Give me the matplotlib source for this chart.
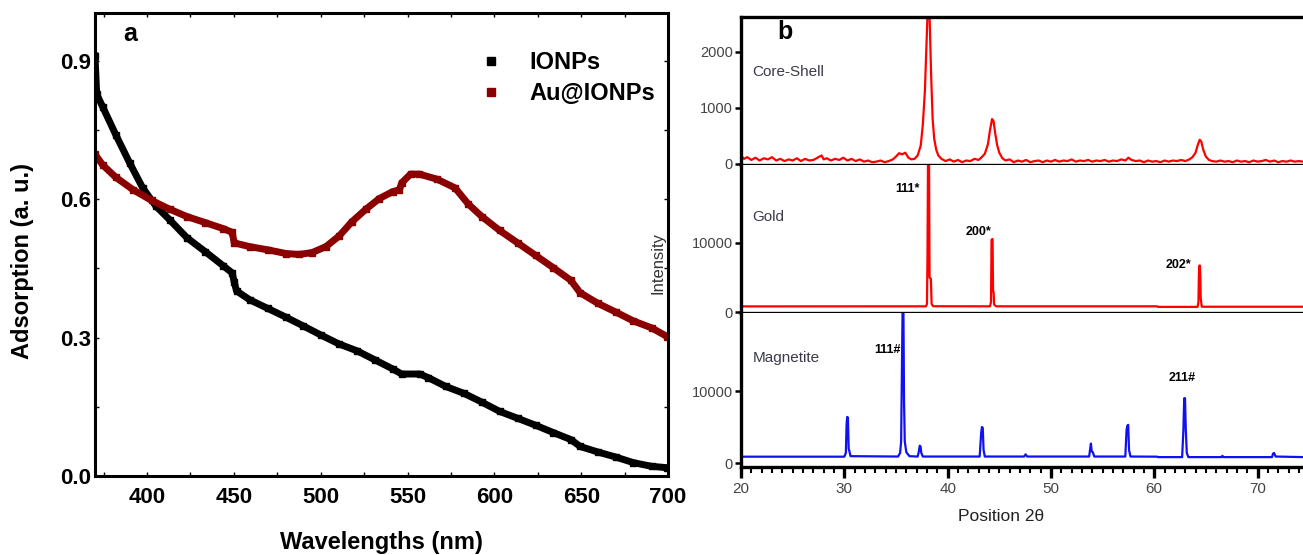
import numpy as np
import matplotlib
matplotlib.use('Agg')
import matplotlib.pyplot as plt
from matplotlib.lines import Line2D
from matplotlib.ticker import MultipleLocator

plt.rcParams['font.family'] = ['Liberation Sans', 'DejaVu Sans']

# ---- panel a: UV-vis ----
ion_nm = [370, 371, 374.4, 382, 390, 397.5, 405, 413, 423, 433.5, 444, 449, 450.2, 451.5,
          459, 469.5, 480, 490, 500.3, 510.6, 521, 531, 541.4, 546.6, 557, 562, 572,
          582.5, 592.8, 603, 613.4, 623.7, 634, 644, 649.4, 659.6, 670, 680, 690.5, 699.5]
ion_abs = [0.91, 0.827, 0.80, 0.739, 0.678, 0.624, 0.585, 0.555, 0.516, 0.486, 0.455, 0.44,
           0.42, 0.401, 0.382, 0.363, 0.344, 0.325, 0.305, 0.286, 0.271, 0.252, 0.232, 0.221,
           0.221, 0.213, 0.194, 0.179, 0.16, 0.14, 0.125, 0.11, 0.094, 0.079, 0.064, 0.052,
           0.041, 0.029, 0.021, 0.018]

au_nm = [370, 374.4, 382, 392, 402.6, 413, 423, 433.5, 443.8, 449, 450.2, 459, 469.5, 480,
         487.5, 495, 503, 510.6, 518, 526, 533.7, 541.4, 545.3, 546.6, 551.7, 556.8, 567,
         577.4, 585, 592.8, 603, 613.4, 623.7, 634, 644, 649.4, 659.6, 670, 680, 690.5, 699.5]
au_abs = [0.697, 0.674, 0.647, 0.62, 0.597, 0.578, 0.562, 0.549, 0.536, 0.528, 0.505, 0.497,
          0.49, 0.482, 0.48, 0.484, 0.497, 0.52, 0.551, 0.578, 0.601, 0.616, 0.62, 0.635,
          0.654, 0.654, 0.643, 0.624, 0.589, 0.562, 0.532, 0.505, 0.478, 0.451, 0.424, 0.397,
          0.374, 0.355, 0.336, 0.321, 0.302]

# ---- panel b: XRD ----
cs_2t = [20.0, 20.3, 20.6, 21.0, 21.4, 21.8, 22.2, 22.6, 23.0, 23.4, 23.8, 24.2, 24.6, 25.0,
         25.4, 25.8, 26.2, 26.6, 27.0, 27.4, 27.8, 28.0, 28.3, 28.7, 29.1, 29.5, 29.9, 30.3,
         30.7, 31.1, 31.5, 31.9, 32.3, 32.7, 33.1, 33.5, 33.9, 34.3, 34.7, 35.0, 35.3, 35.6,
         35.9, 36.2, 36.5, 36.8, 37.1, 37.4, 37.6, 37.8, 37.95, 38.05, 38.15, 38.25, 38.4,
         38.55, 38.7, 38.9, 39.1, 39.4, 39.8, 40.2, 40.6, 41.0, 41.4, 41.8, 42.2, 42.6, 43.0,
         43.3, 43.6, 43.9, 44.1, 44.3, 44.45, 44.6, 44.8, 45.0, 45.3, 45.6, 46.0, 46.4, 46.8,
         47.2, 47.6, 48.0, 48.4, 48.8, 49.2, 49.6, 50.0, 50.4, 50.8, 51.2, 51.6, 52.0, 52.4,
         52.8, 53.2, 53.6, 54.0, 54.4, 54.8, 55.2, 55.6, 56.0, 56.4, 56.8, 57.2, 57.5, 57.8,
         58.2, 58.6, 59.0, 59.4, 59.8, 60.2, 60.6, 61.0, 61.4, 61.8, 62.2, 62.6, 63.0, 63.4,
         63.7, 64.0, 64.2, 64.4, 64.55, 64.75, 65.0, 65.3, 65.6, 66.0, 66.4, 66.8, 67.2, 67.6,
         68.0, 68.4, 68.8, 69.2, 69.6, 70.0, 70.4, 70.8, 71.2, 71.6, 72.0, 72.4, 72.8, 73.2,
         73.6, 74.0, 74.4]
cs_int = [140, 90, 120, 70, 110, 60, 100, 80, 120, 60, 90, 50, 80, 60,
          100, 50, 90, 60, 70, 110, 150, 80, 100, 60, 90, 70, 110, 60,
          90, 50, 80, 40, 60, 30, 40, 60, 30, 50, 80, 130, 190, 170,
          200, 110, 80, 90, 150, 330, 700, 1300, 2100, 2650, 2700, 2650, 1600,
          800, 450, 250, 150, 90, 50, 80, 40, 70, 30, 60, 50, 90, 70,
          120, 180, 350, 600, 800, 760, 550, 330, 200, 100, 60, 80, 30, 60,
          40, 70, 30, 50, 60, 30, 60, 40, 70, 40, 60, 50, 80, 40,
          60, 50, 70, 40, 60, 50, 70, 40, 60, 50, 80, 60, 110, 70,
          50, 60, 30, 60, 40, 50, 30, 60, 40, 60, 50, 70, 50, 80,
          120, 200, 330, 430, 400, 250, 130, 70, 50, 40, 60, 40, 50, 30,
          60, 40, 50, 30, 60, 40, 50, 70, 40, 60, 30, 50, 40, 60,
          40, 50, 40]

gold_2t = [20.0, 37.9, 38.0, 38.05, 38.1, 38.2, 38.25, 38.3, 38.38, 38.45, 38.6, 44.1, 44.2,
           44.25, 44.35, 44.4, 44.45, 44.5, 44.7, 60.3, 60.35, 64.2, 64.28, 64.32, 64.36,
           64.42, 64.46, 64.5, 64.6, 74.4]
gold_int = [850, 860, 1200, 8000, 22000, 22000, 5000, 4900, 4800, 1200, 870, 860, 1500,
            10400, 10500, 3000, 2900, 1100, 860, 860, 780, 780, 1500, 5200, 6700,
            6700, 5200, 2000, 800, 800]

mag_2t = [20.0, 30.0, 30.15, 30.22, 30.28, 30.35, 30.42, 30.5, 30.6, 35.2, 35.4, 35.5, 35.58,
          35.64, 35.72, 35.78, 35.85, 36.0, 36.3, 37.1, 37.2, 37.3, 37.38, 37.45, 37.6, 43.1,
          43.25, 43.32, 43.4, 43.48, 43.6, 47.4, 47.55, 47.7, 53.7, 53.8, 53.87, 53.95, 54.05,
          54.2, 57.2, 57.32, 57.4, 57.48, 57.56, 57.7, 60.3, 60.35, 62.7, 62.82, 62.9, 62.98,
          63.05, 63.15, 63.3, 66.5, 66.6, 66.7, 71.4, 71.5, 71.6, 71.75, 74.4]
mag_int = [880, 880, 1400, 5400, 6400, 6300, 2000, 1600, 950, 900, 1400, 3000, 13500,
           21500, 21500, 8600, 3000, 1500, 950, 900, 1500, 2400, 2300, 1400, 900, 900,
           4200, 5000, 4900, 1800, 900, 900, 1200, 900, 900, 2000, 2700, 1600, 1500,
           900, 900, 4600, 5200, 5300, 1800, 900, 880, 820, 820, 4500, 9000, 9000,
           4800, 1400, 820, 820, 1000, 820, 820, 1300, 1400, 900, 820]

gold_labels = [(36.1, 17600, '111*'), (43.0, 11560, '200*'), (62.36, 6780, '202*')]
mag_labels = [(34.15, 15660, '111#'), (62.67, 11870, '211#')]

fig = plt.figure(figsize=(13.03, 5.55), dpi=100)

# ================= panel a =================
ax = fig.add_axes([0.0729, 0.1423, 0.4398, 0.8334])
ax.plot(ion_nm, ion_abs, color='black', lw=5, marker='s', ms=4.5)
ax.plot(au_nm, au_abs, color='#8b0000', lw=5, marker='s', ms=4, mec='#8b0000')
ax.set_xlim(370, 700)
ax.set_ylim(0, 1.002)
ax.xaxis.set_major_locator(MultipleLocator(50))
ax.xaxis.set_minor_locator(MultipleLocator(25))
ax.yaxis.set_major_locator(MultipleLocator(0.3))
ax.yaxis.set_minor_locator(MultipleLocator(0.15))
ax.yaxis.set_major_formatter(matplotlib.ticker.FormatStrFormatter('%.1f'))
for s in ax.spines.values():
    s.set_linewidth(2.2)
ax.tick_params(axis='both', which='major', direction='out', length=5, width=2,
               labelsize=16, pad=3)
ax.tick_params(axis='x', which='major', pad=8)
ax.tick_params(axis='both', which='minor', direction='out', length=4, width=2)
ax.tick_params(top=True, right=True, which='both', direction='in', length=3, width=1)
ax.tick_params(top=True, right=True, labeltop=False, labelright=False)
for lab in ax.get_xticklabels() + ax.get_yticklabels():
    lab.set_fontweight('bold')

handles = [Line2D([], [], ls='none', marker='s', ms=6, color='black'),
           Line2D([], [], ls='none', marker='s', ms=6, color='#8b0000')]
ax.legend(handles, ['IONPs', 'Au@IONPs'], loc='upper left', bbox_to_anchor=(0.63, 0.965),
          frameon=False, handlelength=1.2, handletextpad=1.0, labelspacing=0.35,
          prop={'weight': 'bold', 'size': 17})
ax.text(0.05, 0.955, 'a', transform=ax.transAxes, fontsize=18, fontweight='bold',
        ha='left', va='center')
fig.text(0.017, 0.53, 'Adsorption (a. u.)', rotation=90, ha='center', va='center',
         fontsize=17, fontweight='bold')
fig.text(0.2924, 0.022, 'Wavelengths (nm)', ha='center', va='center',
         fontsize=17, fontweight='bold')

# ================= panel b =================
left, width = 0.5687, 0.4313
boxes = [0.7027, 0.4360, 0.1586]
heights = [0.9694 - 0.7027, 0.7027 - 0.4360, 0.4360 - 0.1586]
axs = [fig.add_axes([left, b, width, h]) for b, h in zip(boxes, heights)]
series = [(cs_2t, cs_int, 'red', (-20, 2620), [0, 1000, 2000], 'Core-Shell'),
          (gold_2t, gold_int, 'red', (-100, 21100), [0, 10000], 'Gold'),
          (mag_2t, mag_int, '#1010f0', (-550, 20830), [0, 10000], 'Magnetite')]
name_y = [0.63, 0.65, 0.71]
for i, (bx, x, y, col, yl, yt, name) in enumerate(zip(axs, *zip(*series))):
    bx.plot(x, y, color=col, lw=1.6)
    bx.set_xlim(20, 74.4)
    bx.set_ylim(*yl)
    bx.set_yticks(yt)
    bx.spines['right'].set_visible(False)
    if i > 0:
        bx.spines['top'].set_visible(False)
    for s in ['left', 'bottom', 'top']:
        bx.spines[s].set_linewidth(2.4)
    bx.tick_params(axis='y', direction='out', length=4, width=1.8, labelsize=10.5,
                   labelcolor='#444444', pad=2)
    bx.text(0.02, name_y[i], name, transform=bx.transAxes, fontsize=11,
            color='#3a3a4a', ha='left', va='center')
    if i < 2:
        bx.tick_params(axis='x', bottom=False, labelbottom=False)

for x, y, t in gold_labels:
    axs[1].text(x, y, t, fontsize=9, fontweight='bold', ha='center', va='center')
for x, y, t in mag_labels:
    axs[2].text(x, y, t, fontsize=9, fontweight='bold', ha='center', va='center')

bb = axs[2]
bb.xaxis.set_major_locator(MultipleLocator(10))
bb.xaxis.set_minor_locator(MultipleLocator(1))
bb.tick_params(axis='x', which='major', direction='out', length=8, width=2.4,
               labelsize=11, labelcolor='#444444', pad=3)
bb.tick_params(axis='x', which='minor', direction='out', length=4, width=1.5)
axs[0].text(0.065, 0.9, 'b', transform=axs[0].transAxes, fontsize=18, fontweight='bold',
            ha='left', va='center')
fig.text(0.505, 0.526, 'Intensity', rotation=90, ha='center', va='center',
         fontsize=12, color='#333333')
fig.text(0.768, 0.069, 'Position 2\u03b8', ha='center', va='center',
         fontsize=12.5, color='#222222')

fig.savefig('out.png', dpi=100)
